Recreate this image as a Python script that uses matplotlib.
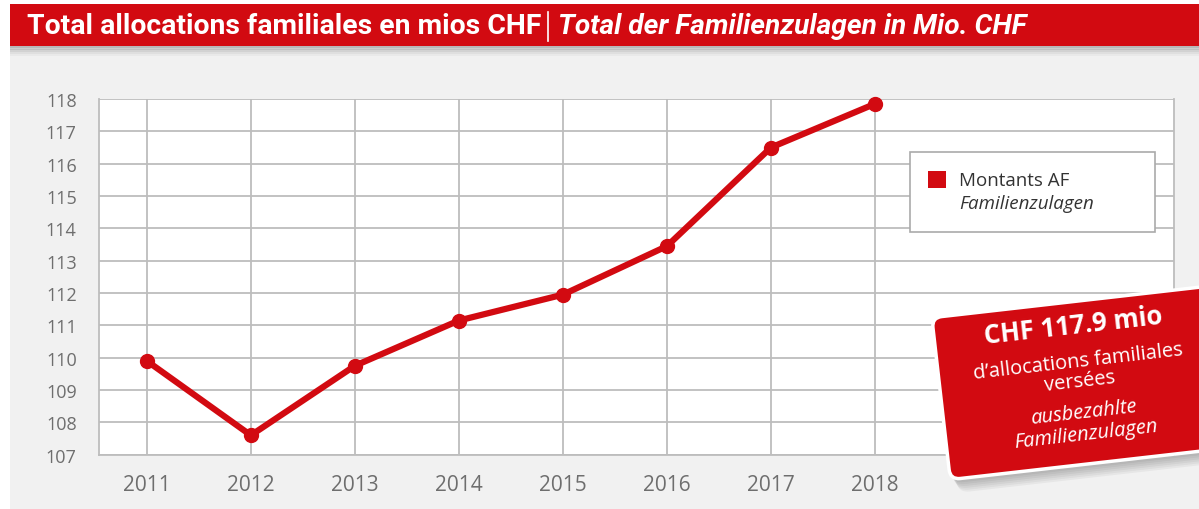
import matplotlib
matplotlib.use("Agg")
import matplotlib.pyplot as plt
from matplotlib.transforms import Affine2D
from matplotlib.patches import Rectangle, FancyBboxPatch
from matplotlib.lines import Line2D

years = ["2011", "2012", "2013", "2014", "2015", "2016", "2017", "2018"]
amounts = [109.9, 107.6, 109.75, 111.15, 111.95, 113.45, 116.5, 117.85]
yticks = list(range(107, 119))

title_fr = "Total allocations familiales en mios CHF"
title_de = "Total der Familienzulagen in Mio. CHF"
legend_fr = "Montants AF"
legend_de = "Familienzulagen"
badge_lines = ["CHF 117.9 mio", "d\u2019allocations familiales", "versées", "ausbezahlte", "Familienzulagen"]

RED = "#d20a11"
GRID = "#bdbdbd"
TXT = "#6e6e6e"
W, H = 1199, 510

plt.rcParams['font.family'] = ['Open Sans', 'DejaVu Sans']
fig = plt.figure(figsize=(W / 100, H / 100), dpi=100)
PX = Affine2D().scale(1 / W, -1 / H).translate(0, 1) + fig.transFigure
renderer = fig.canvas.get_renderer()

# background panel
fig.patches.append(Rectangle((10, 50), W - 10, H - 50, transform=PX, fc="#f1f1f1", ec="none", zorder=-10))
# title bar shadow
for i, a in enumerate([0.10, 0.08, 0.06, 0.04, 0.03]):
    fig.patches.append(Rectangle((10, 47), W - 10, 2 + 2 * i, transform=PX, fc="black", ec="none", alpha=a, zorder=-9))
fig.patches.append(Rectangle((10, 5), W - 10, 42, transform=PX, fc=RED, ec="none", zorder=-8))
tfam = ['Roboto', 'DejaVu Sans']


def fit_text(x, y, s, width, **kw):
    t = fig.text(x, y, s, transform=PX, **kw)
    w = t.get_window_extent(renderer=renderer).width
    t.set_fontsize(t.get_fontsize() * width / w)
    return t


fit_text(27, 27, title_fr, 513, color="white", fontsize=20, fontweight="bold",
         family=tfam, va="center", ha="left")
fig.lines.append(Line2D([548, 548], [13, 42], transform=PX, color="white", lw=1.2))
fit_text(558, 27, title_de, 469, color="white", fontsize=20, fontweight="bold",
         style="italic", family=tfam, va="center", ha="left")

# axes
ax = fig.add_axes([99 / W, 1 - 455.7 / H, (1174 - 99) / W, (455.7 - 100) / H])
x = list(range(len(years)))
ax.plot(x, amounts, color=RED, lw=4.5, marker="o", ms=10, solid_capstyle="round", zorder=5, clip_on=False)
ax.set_xlim(-0.46, 9.875)
ax.set_ylim(107, 118)
ax.set_yticks(yticks)
ax.set_yticklabels([str(v) for v in yticks])
ax.set_xticks(x)
ax.set_xticklabels(years)
ax.grid(True, color=GRID, lw=1.3)
ax.set_axisbelow(True)
for s in ax.spines.values():
    s.set_color(GRID)
    s.set_linewidth(1.3)
ax.spines["top"].set_visible(False)
ax.tick_params(axis="both", length=0, colors=TXT)
ax.tick_params(axis="x", labelsize=15, pad=14)
ax.tick_params(axis="y", labelsize=13, pad=16)

# legend (manual)
fig.patches.append(Rectangle((910, 153), 245, 80, transform=PX, fc="white", ec="#aaaaaa", lw=1.2, zorder=3))
fig.patches.append(Rectangle((928, 172), 18, 17, transform=PX, fc=RED, ec="none", zorder=4))
fig.text(959, 181, legend_fr, transform=PX, color="#333333", fontsize=13.5, va="center", ha="left", zorder=4)
fig.text(959, 204, legend_de, transform=PX, color="#333333", fontsize=13.5, style="italic", va="center", ha="left", zorder=4)

# badge
cx, cy = 1074, 383
ang = 6.5
rot = Affine2D().rotate_deg_around(cx, cy, -ang)
bx, by, bw, bh = 940, 303, 300, 163
for i in range(6):
    fig.patches.append(FancyBboxPatch((bx + 1 + i, by + 4 + 2 * i), bw, bh,
                                      boxstyle="round,pad=0,rounding_size=12",
                                      transform=rot + PX,
                                      fc="black", ec="none", alpha=0.045, zorder=6))
fig.patches.append(FancyBboxPatch((bx, by), bw, bh, boxstyle="round,pad=0,rounding_size=10",
                                  transform=rot + PX, fc=RED, ec="white", lw=2.5, zorder=7))
specs = [(-56, 18.5, "bold", "normal"), (-20, 14.5, "normal", "normal"), (0, 14.5, "normal", "normal"),
         (31, 14.5, "normal", "italic"), (53, 14.5, "normal", "italic")]
for (v, fs, fw, st), s in zip(specs, badge_lines):
    px, py = rot.transform((cx + 6, cy + v))
    fig.text(px, py, s, transform=PX, color="white", fontsize=fs, fontweight=fw, style=st,
             rotation=ang, rotation_mode="anchor", ha="center", va="center", zorder=8)

fig.savefig("out.png", dpi=100)
